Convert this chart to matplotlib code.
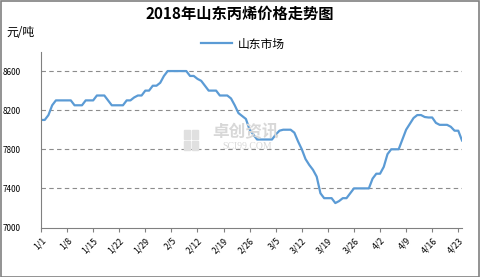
import datetime as dt
import matplotlib
matplotlib.use('Agg')
import matplotlib.pyplot as plt
from matplotlib.patches import Rectangle

plt.rcParams['font.family'] = ['Noto Sans CJK SC', 'DejaVu Sans']

title = '2018年山东丙烯价格走势图'
series_name = '山东市场'
unit = '元/吨'

# daily prices, 1/1 .. 4/24
prices = [
    8100, 8100, 8150, 8250, 8300, 8300, 8300, 8300, 8300, 8250,
    8250, 8250, 8300, 8300, 8300, 8350, 8350, 8350, 8300, 8250,
    8250, 8250, 8250, 8300, 8300, 8330, 8350, 8350, 8400, 8400,
    8450, 8450, 8480, 8550, 8600, 8600, 8600, 8600, 8600, 8600,
    8550, 8550, 8520, 8500, 8450, 8400, 8400, 8400, 8350, 8350,
    8350, 8320, 8250, 8170, 8140, 8110, 8000, 7950, 7900, 7900,
    7900, 7900, 7900, 7950, 7990, 8000, 8000, 8000, 7970, 7880,
    7800, 7700, 7640, 7590, 7520, 7350, 7300, 7300, 7300, 7250,
    7270, 7300, 7300, 7350, 7400, 7400, 7400, 7400, 7400, 7500,
    7550, 7550, 7620, 7750, 7800, 7800, 7800, 7900, 8000, 8060,
    8120, 8150, 8150, 8130, 8125, 8125, 8070, 8050, 8050, 8050,
    8030, 7990, 7990, 7890,
]
start = dt.date(2018, 1, 1)
dates = [start + dt.timedelta(days=i) for i in range(len(prices))]
tick_idx = list(range(0, len(prices), 7))
tick_labels = ['%d/%d' % (dates[i].month, dates[i].day) for i in tick_idx]
yticks = [7000, 7400, 7800, 8200, 8600]

fig = plt.figure(figsize=(4.8, 2.77), dpi=100)
ax = fig.add_axes([41/480, 1-227.5/277, 421/480, 176/277])

x = list(range(len(prices)))
ax.plot(x, prices, color='#5B9BD5', lw=1.6, label=series_name, solid_joinstyle='round')

ax.set_xlim(0, len(prices)-1)
ax.set_ylim(7000, 8800)
ax.set_yticks(yticks)
ax.set_yticklabels([str(v) for v in yticks])
for v in yticks[1:]:
    ax.axhline(v, color='#8c8c8c', lw=0.8, ls=(0, (4, 3)), zorder=0)

ax.set_xticks(tick_idx)
ax.set_xticklabels(tick_labels, rotation=45, ha='right', va='top', rotation_mode='anchor')
ax.tick_params(axis='x', length=3, color='#808080', labelsize=6.3, pad=3)
ax.tick_params(axis='y', length=0, labelsize=5.9, pad=14.5)

for s in ['top', 'right']:
    ax.spines[s].set_visible(False)
for s in ['left', 'bottom']:
    ax.spines[s].set_color('#808080')
    ax.spines[s].set_linewidth(0.8)

fig.text(0.5, 1-14/277, title, ha='center', va='center', fontsize=11, fontweight='bold')
fig.text(6/480, 1-33/277, unit, ha='left', va='center', fontsize=8.5)
fig.legend(loc='center', bbox_to_anchor=(243/480, 1-44/277), frameon=False,
           fontsize=8.5, handlelength=2.6, handletextpad=0.5)

# watermark
fig.text(246/480, 1-132/277, '卓创资讯', ha='center', va='center', fontsize=12,
         color='#d8d8d8', fontweight='bold', zorder=0)
fig.text(247/480, 1-146/277, 'SCI99.COM', ha='center', va='center', fontsize=7,
         color='#d8d8d8', family='Liberation Serif', zorder=0)
for i in range(2):
    for j in range(2):
        fig.patches.append(Rectangle(((184 + 8*i)/480, 1-(150 - 11*j)/277), 6/480, 9/277,
                                     transform=fig.transFigure, color='#e0e0e0', zorder=0))

fig.patches.append(Rectangle((0.5/480, 0.5/277), 478.5/480, 275.5/277, transform=fig.transFigure,
                             fill=False, edgecolor='#808080', lw=1.2))

fig.savefig('out.png', dpi=100)
